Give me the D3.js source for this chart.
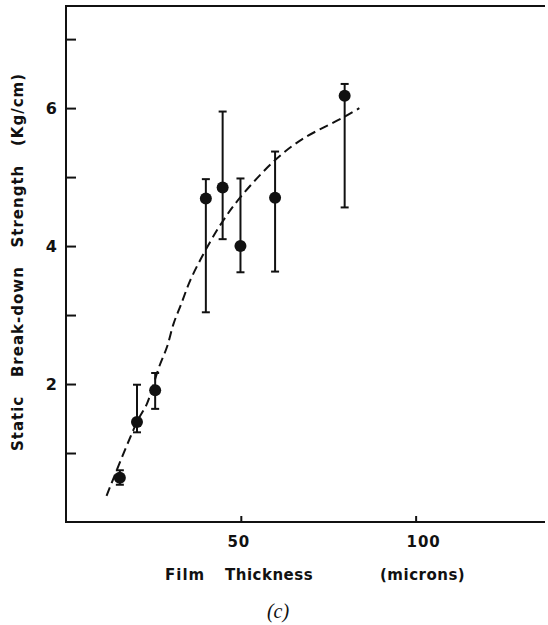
<!DOCTYPE html>
<html>
<head>
<meta charset="utf-8">
<script src="https://cdn.jsdelivr.net/npm/d3@7"></script>
<style>
  body { margin: 0; background: #fff; }
  text { font-family: "DejaVu Sans", "Liberation Sans", Arial, sans-serif; font-weight: bold; fill: #111; }
</style>
</head>
<body>
<div id="chart"></div>
<script>
// data
var thickness = [15.4, 20.3, 25.5, 40.0, 44.8, 49.9, 59.8, 79.7];
var strength  = [0.64, 1.45, 1.91, 4.69, 4.85, 4.00, 4.70, 6.18];
var errHigh   = [0.75, 1.99, 2.16, 4.97, 5.95, 4.98, 5.37, 6.35];
var errLow    = [0.54, 1.30, 1.64, 3.04, 4.10, 3.62, 3.63, 4.56];

var curveX = [11.6, 20.3, 23.2, 26.5, 28.9, 30.8, 32.8, 35.6, 39.9, 44.7, 49.9, 59.9, 67.6, 79.5, 83.9];
var curveY = [0.38, 1.45, 1.72, 2.23, 2.54, 2.88, 3.14, 3.51, 3.94, 4.35, 4.71, 5.25, 5.55, 5.87, 6.00];

var xTicks = [50, 100];
var yTicks = [1, 2, 3, 4, 5, 6, 7];
var yLabels = [2, 4, 6];

var svgWidth = 548;
var svgHeight = 625;

var svg = d3.select("#chart")
  .append("svg")
  .attr("width", svgWidth)
  .attr("height", svgHeight);

var x = d3.scaleLinear().domain([0, 137]).range([66, 545]);
var y = d3.scaleLinear().domain([0, 7.48]).range([522, 6]);

// frame: left, bottom and top lines
svg.append("path")
  .attr("d", `M${x(137)},${y(7.48)}H${x(0)}V${y(0)}H${x(137)}`)
  .attr("fill", "none")
  .attr("stroke", "#111")
  .attr("stroke-width", 2);

// y ticks point inward
var leftAxis = d3.axisRight(y)
  .tickValues(yTicks)
  .tickSize(10)
  .tickFormat("");
var gy = svg.append("g")
  .attr("transform", `translate(${x(0)},0)`)
  .call(leftAxis);
gy.select(".domain").remove();
gy.selectAll(".tick line").attr("stroke", "#111").attr("stroke-width", 2);

svg.selectAll(".ylab")
  .data(yLabels)
  .enter()
  .append("text")
  .attr("class", "ylab")
  .attr("x", 57)
  .attr("y", d => y(d) + 6)
  .attr("text-anchor", "end")
  .style("font-size", "16px")
  .text(d => d);

// x ticks point inward
var bottomAxis = d3.axisTop(x)
  .tickValues(xTicks)
  .tickSize(6)
  .tickFormat("");
var gx = svg.append("g")
  .attr("transform", `translate(0,${y(0)})`)
  .call(bottomAxis);
gx.select(".domain").remove();
gx.selectAll(".tick line").attr("stroke", "#111").attr("stroke-width", 2);

svg.selectAll(".xlab")
  .data(xTicks)
  .enter()
  .append("text")
  .attr("class", "xlab")
  .attr("x", d => x(d) + (d === 100 ? 8 : -2))
  .attr("y", 547)
  .attr("text-anchor", "middle")
  .style("font-size", "15px")
  .style("letter-spacing", "1px")
  .text(d => d);

// axis titles
svg.append("text").attr("x", 165).attr("y", 580).style("font-size", "15px").style("letter-spacing", "1px").text("Film");
svg.append("text").attr("x", 225).attr("y", 580).style("font-size", "15px").style("letter-spacing", "0.5px").text("Thickness");
svg.append("text").attr("x", 380).attr("y", 580).style("font-size", "15px").style("letter-spacing", "0.5px").text("(microns)");

svg.append("text")
  .attr("x", 278)
  .attr("y", 618)
  .attr("text-anchor", "middle")
  .style("font-family", "'Liberation Serif', 'DejaVu Serif', serif")
  .style("font-weight", "normal")
  .style("font-style", "italic")
  .style("font-size", "20px")
  .text("(c)");

svg.append("text")
  .attr("transform", "translate(23,262) rotate(-90)")
  .attr("text-anchor", "middle")
  .attr("xml:space", "preserve")
  .style("white-space", "pre")
  .style("font-size", "15px")
  .style("letter-spacing", "1px")
  .text("Static   Break-down   Strength   (Kg/cm)");

// dashed fit curve
var line = d3.line()
  .x(d => x(d[0]))
  .y(d => y(d[1]))
  .curve(d3.curveCatmullRom);

svg.append("path")
  .datum(d3.zip(curveX, curveY))
  .attr("d", line)
  .attr("fill", "none")
  .attr("stroke", "#111")
  .attr("stroke-width", 2)
  .attr("stroke-dasharray", "9,5");

// error bars
var pts = thickness.map((t, i) => ({t: t, s: strength[i], hi: errHigh[i], lo: errLow[i]}));

var bars = svg.selectAll(".err")
  .data(pts)
  .enter()
  .append("g")
  .attr("class", "err")
  .attr("stroke", "#111")
  .attr("stroke-width", 2);

bars.append("line")
  .attr("x1", d => x(d.t)).attr("x2", d => x(d.t))
  .attr("y1", d => y(d.hi)).attr("y2", d => y(d.lo));
bars.append("line")
  .attr("x1", d => x(d.t) - 4).attr("x2", d => x(d.t) + 4)
  .attr("y1", d => y(d.hi)).attr("y2", d => y(d.hi));
bars.append("line")
  .attr("x1", d => x(d.t) - 4).attr("x2", d => x(d.t) + 4)
  .attr("y1", d => y(d.lo)).attr("y2", d => y(d.lo));

svg.selectAll(".pt")
  .data(pts)
  .enter()
  .append("circle")
  .attr("class", "pt")
  .attr("cx", d => x(d.t))
  .attr("cy", d => y(d.s))
  .attr("r", 6)
  .attr("fill", "#111");
</script>
</body>
</html>
